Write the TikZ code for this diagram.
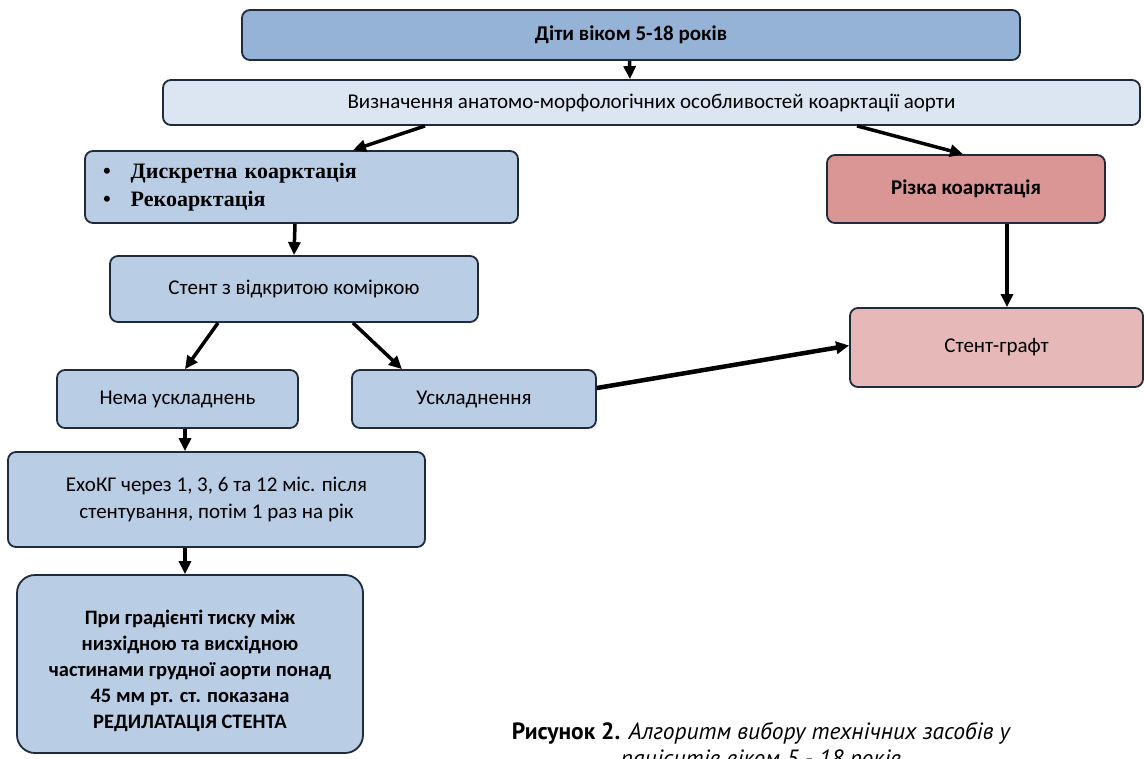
\documentclass[tikz,border=0pt]{standalone}
\usepackage{fontspec}
\setmainfont{Carlito}
\newfontfamily\bulfont{Liberation Serif}
\newfontfamily\capfont{PT Sans}
\usepackage{xcolor}
\usetikzlibrary{arrows.meta, positioning, calc}
\definecolor{topblue}{HTML}{95B3D7}
\definecolor{paleblue}{HTML}{DCE6F2}
\definecolor{midblue}{HTML}{B9CDE5}
\definecolor{rosered}{HTML}{D99694}
\definecolor{palerose}{HTML}{E6B9B8}
\definecolor{edgeblue}{HTML}{1F2A3C}
\tikzset{
  box/.style   ={rectangle, draw=edgeblue, line width=1.8pt, rounded corners=8pt,
                 align=center, font=\fontsize{21}{27}\selectfont, inner sep=2pt},
  ar/.style    ={-{Triangle[length=13pt, width=12pt]}, line width=3.5pt, black},
  txt/.style   ={font=\fontsize{21}{27}\selectfont}
}
\begin{document}
\begin{tikzpicture}[
  x=1pt, y=-1pt,
  bb/.style={box, fill=midblue},
  rb/.style={box, fill=palerose}
]
\useasboundingbox (0,0) rectangle (1145,758);
\node[box, fill=topblue, minimum width=778pt, minimum height=50pt, font=\fontsize{21}{27}\selectfont\bfseries]
  (kids) at (631,35) {Діти віком 5-18 років};
\node[box, fill=paleblue, minimum width=977pt, minimum height=45pt]
  (det) at (651.5,102.5) {Визначення анатомо-морфологічних особливостей коарктації аорти};
\node[bb, minimum height=72pt, text width=397pt, inner xsep=18pt, align=left,
      font=\fontsize{22}{28}\selectfont\bulfont\bfseries]
  (disc) at (301.5,187) {\textbullet\hspace{20pt}Дискретна коарктація\\ \textbullet\hspace{20pt}Рекоарктація};
\node[bb, minimum width=368pt, minimum height=66pt] (open) at (294,289) {Стент з відкритою коміркою};
\node[bb, minimum width=241pt, minimum height=58pt] (none) at (177.5,399) {Нема ускладнень};
\node[bb, minimum width=244pt, minimum height=58pt] (compl) at (474,399) {Ускладнення};
\node[bb, minimum width=417pt, minimum height=95pt, txt] (echo) at (216.5,499.5)
  {ЕхоКГ через 1, 3, 6 та 12 міс. після\\ стентування, потім 1 раз на рік};
\node[bb, rounded corners=18pt, minimum width=346pt, minimum height=178pt,
      font=\fontsize{20.5}{26}\selectfont\bfseries] (redil) at (190,664)
  {\rule{0pt}{29pt}При градієнті тиску між\\ низхідною та висхідною\\ частинами грудної аорти понад\\ 45 мм рт. ст. показана\\ РЕДИЛАТАЦІЯ СТЕНТА};
\node[box, fill=rosered, minimum width=278pt, minimum height=68pt, font=\fontsize{21}{27}\selectfont\bfseries]
  (sharp) at (966,189) {Різка коарктація};
\node[rb, minimum width=293pt, minimum height=79pt] (graft) at (996.5,347.5) {Стент-графт};
\node[align=center, font=\fontsize{23.5}{27}\selectfont\capfont] (cap) at (761,747)
  {{\bfseries Рисунок 2.} \itshape Алгоритм вибору технічних засобів у\\ \itshape пацієнтів віком 5 - 18 років};
\draw[ar] ([xshift=-1.5pt]kids.south) -- ([xshift=-21.5pt]det.north);
\draw[ar] ([xshift=-226.5pt]det.south) -- ([xshift=51.5pt]disc.north);
\draw[ar] ([xshift=205.5pt]det.south) -- ([xshift=-3pt]sharp.north);
\draw[ar] ([xshift=-6.5pt]disc.south) -- (open.north);
\draw[ar] ([xshift=-76pt]open.south) -- ([xshift=7.5pt]none.north);
\draw[ar] ([xshift=59pt]open.south) -- ([xshift=-72pt]compl.north);
\draw[ar, line width=4.5pt] ([yshift=11pt]compl.east) -- ([yshift=2pt]graft.west);
\draw[ar] ([xshift=41pt]sharp.south) -- ([xshift=41pt]sharp.south |- graft.north);
\draw[ar] ([xshift=7.5pt]none.south) -- ([xshift=7.5pt]none.south |- echo.north);
\draw[ar] ([xshift=-31.5pt]echo.south) -- ([xshift=-31.5pt]echo.south |- redil.north);
\end{tikzpicture}
\end{document}
